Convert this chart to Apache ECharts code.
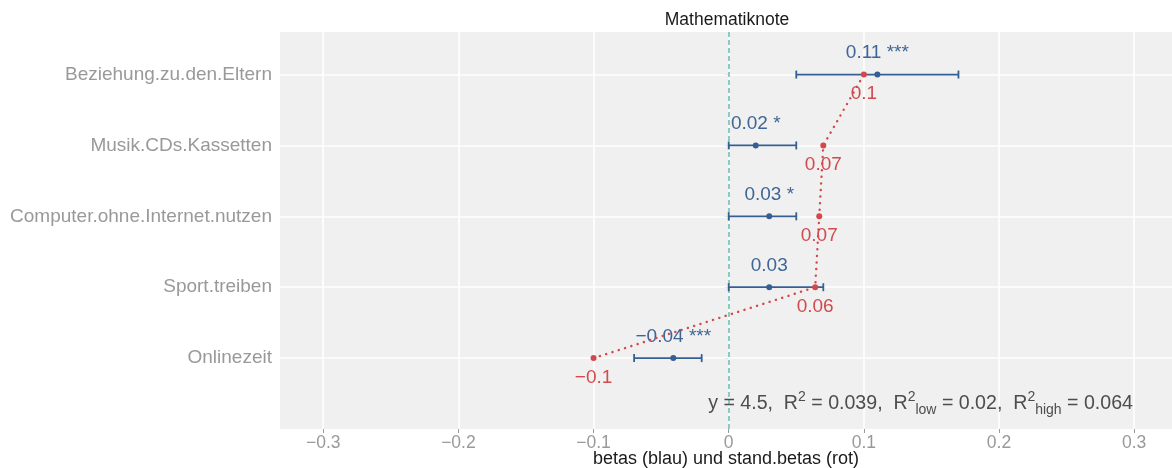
<!DOCTYPE html>
<html>
<head>
<meta charset="utf-8">
<script src="https://cdn.jsdelivr.net/npm/echarts@6/dist/echarts.min.js"></script>
<style>
html,body{margin:0;padding:0;background:#fff;}
#chart{width:1172px;height:468px;}
</style>
</head>
<body>
<div id="chart"></div>
<script>
// bottom to top
const categories = ['Onlinezeit', 'Sport.treiben', 'Computer.ohne.Internet.nutzen', 'Musik.CDs.Kassetten', 'Beziehung.zu.den.Eltern'];
const betas = [-0.041, 0.03, 0.03, 0.02, 0.11];
const betaLabels = ['\u22120.04 ***', '0.03', '0.03 *', '0.02 *', '0.11 ***'];
const ciLow = [-0.07, 0, 0, 0, 0.05];
const ciHigh = [-0.02, 0.07, 0.05, 0.05, 0.17];
const stdBetas = [-0.1, 0.064, 0.067, 0.07, 0.1];
const stdLabels = ['\u22120.1', '0.06', '0.07', '0.07', '0.1'];
const xTicks = [-0.3, -0.2, -0.1, 0, 0.1, 0.2, 0.3];
const yTicks = [1, 2, 3, 4, 5];

const BLUE = '#355f93';
const BLUE_TXT = '#3f6596';
const RED = '#d4474b';
const RED_TXT = '#d24a4e';
const FONT = 'Liberation Sans, Arial, sans-serif';

const chart = echarts.init(document.getElementById('chart'), null, {renderer: 'canvas'});

const blueData = betas.map((v, i) => [v, i + 1, betaLabels[i]]);
const redData = stdBetas.map((v, i) => [v, i + 1, stdLabels[i]]);
const ciData = betas.map((v, i) => [ciLow[i], ciHigh[i], i + 1]);

const option = {
  backgroundColor: '#ffffff',
  animation: false,
  textStyle: {fontFamily: FONT},
  grid: {left: 280, right: 0, top: 32, bottom: 39, show: true, backgroundColor: '#f0f0f0', borderWidth: 0, containLabel: false, outerBoundsMode: 'none'},
  xAxis: {
    type: 'value', min: -0.332, max: 0.328,
    axisLine: {show: false},
    axisTick: {show: true, length: 4, lineStyle: {color: '#999'}, customValues: xTicks},
    axisLabel: {
      color: '#999', fontSize: 17.5, margin: 5, fontFamily: FONT, customValues: xTicks,
      formatter: v => (v < 0 ? '\u2212' + Math.abs(v) : String(v))
    },
    splitLine: {show: false},
    name: 'betas (blau) und stand.betas (rot)',
    nameLocation: 'middle', nameGap: 21, nameMoveOverlap: false,
    nameTextStyle: {color: '#1a1a1a', fontSize: 18, fontFamily: FONT}
  },
  yAxis: {
    type: 'value', min: 0, max: 5.6,
    axisLine: {show: false},
    axisTick: {show: true, length: 4, lineStyle: {color: '#999'}, customValues: yTicks},
    axisLabel: {
      color: '#999', fontSize: 19, margin: 8, fontFamily: FONT, customValues: yTicks,
      formatter: v => categories[Math.round(v) - 1] || ''
    },
    splitLine: {show: false}
  },
  graphic: [
    {
      type: 'text', x: 727, y: 20,
      style: {text: 'Mathematiknote', fill: '#1a1a1a', font: '17.5px ' + FONT, textAlign: 'center', textVerticalAlign: 'middle'}
    },
    {
      type: 'text', x: 1133, y: 404, z: 10,
      style: {
        text: 'y = 4.5,  R{sup|2} = 0.039,  R{sup|2}{sub|low} = 0.02,  R{sup|2}{sub|high} = 0.064',
        fill: '#4d4d4d', font: '19.6px ' + FONT, textAlign: 'right', textVerticalAlign: 'middle',
        rich: {
          sup: {fontSize: 14, fill: '#4d4d4d', padding: [0, 0, 14, 0], fontFamily: FONT},
          sub: {fontSize: 14, fill: '#4d4d4d', padding: [12, 0, 0, 0], fontFamily: FONT}
        }
      }
    }
  ],
  series: [
    {
      // grid lines
      type: 'scatter', data: [], silent: true, z: 1,
      markLine: {
        silent: true, symbol: 'none', label: {show: false}, z: 1,
        lineStyle: {color: '#ffffff', width: 1.6, type: 'solid'},
        data: xTicks.map(v => ({xAxis: v})).concat(yTicks.map(v => ({yAxis: v})))
      }
    },
    {
      // zero line
      type: 'scatter', data: [], silent: true, z: 2,
      markLine: {
        silent: true, symbol: 'none', label: {show: false}, z: 2,
        lineStyle: {color: '#8ccbc0', width: 2, type: [5, 3]},
        data: [{xAxis: 0}]
      }
    },
    {
      // error bars
      type: 'custom', z: 4,
      data: ciData,
      renderItem: function (params, api) {
        const p1 = api.coord([api.value(0), api.value(2)]);
        const p2 = api.coord([api.value(1), api.value(2)]);
        const h = 4;
        const st = {stroke: BLUE, lineWidth: 1.8};
        return {
          type: 'group',
          children: [
            {type: 'line', shape: {x1: p1[0], y1: p1[1], x2: p2[0], y2: p2[1]}, style: st},
            {type: 'line', shape: {x1: p1[0], y1: p1[1] - h, x2: p1[0], y2: p1[1] + h}, style: st},
            {type: 'line', shape: {x1: p2[0], y1: p2[1] - h, x2: p2[0], y2: p2[1] + h}, style: st}
          ]
        };
      }
    },
    {
      // blue points
      type: 'scatter', z: 5, data: blueData, symbolSize: 6,
      itemStyle: {color: BLUE, opacity: 1},
      label: {
        show: true, position: 'top', distance: 9,
        formatter: p => p.data[2], color: BLUE_TXT, fontSize: 19, fontFamily: FONT
      }
    },
    {
      // red dotted connector
      type: 'line', z: 6, data: redData, symbol: 'none',
      lineStyle: {color: RED, width: 2.4, type: [0.1, 6.5], cap: 'round', opacity: 1}
    },
    {
      // red points
      type: 'scatter', z: 7, data: redData, symbolSize: 6,
      itemStyle: {color: RED, opacity: 1},
      label: {
        show: true, position: 'bottom', distance: 7,
        formatter: p => p.data[2], color: RED_TXT, fontSize: 19, fontFamily: FONT
      }
    }
  ]
};
chart.setOption(option);
</script>
</body>
</html>
